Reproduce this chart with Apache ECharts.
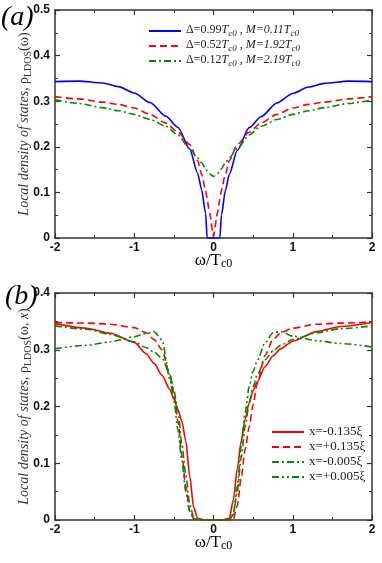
<!DOCTYPE html>
<html>
<head>
<meta charset="utf-8">
<script src="https://cdn.jsdelivr.net/npm/echarts@6/dist/echarts.min.js"></script>
<style>
  html, body { margin: 0; padding: 0; background: #fff; }
  #chart { width: 382px; height: 563px; }
</style>
</head>
<body>
<div id="chart"></div>
<script>
// panel (a): omega grid and rho_LDOS for three (Delta, M) sets
const omegaA = [-2, -1.7, -1.4, -1.2, -1, -0.8, -0.6, -0.45, -0.3, -0.2, -0.15, -0.1, -0.08, -0.05, 0,
  0.05, 0.08, 0.1, 0.15, 0.2, 0.3, 0.45, 0.6, 0.8, 1, 1.2, 1.4, 1.7, 2];
const rhoBlue = [0.343, 0.344, 0.340, 0.332, 0.318, 0.297, 0.267, 0.243, 0.195, 0.142, 0.106, 0.055, 0, 0, 0,
  0, 0, 0.05, 0.104, 0.14, 0.192, 0.242, 0.266, 0.296, 0.317, 0.331, 0.339, 0.344, 0.343];
const rhoRed = [0.310, 0.305, 0.298, 0.293, 0.285, 0.271, 0.252, 0.232, 0.205, 0.17, 0.14, 0.105, 0.085, 0.055, 0.004,
  0.055, 0.085, 0.105, 0.14, 0.17, 0.205, 0.232, 0.252, 0.271, 0.285, 0.293, 0.298, 0.305, 0.310];
const rhoGreen = [0.303, 0.295, 0.286, 0.279, 0.271, 0.260, 0.245, 0.226, 0.196, 0.176, 0.165, 0.152, 0.147, 0.141, 0.135,
  0.141, 0.147, 0.152, 0.165, 0.176, 0.196, 0.226, 0.245, 0.260, 0.271, 0.279, 0.286, 0.295, 0.303];
const deltaVals = ["0.99", "0.52", "0.12"];
const mVals = ["0.11", "1.92", "2.19"];

// panel (b): omega grid and rho_LDOS(omega, x) for four positions
const omegaB = [-2, -1.6, -1.3, -1, -0.85, -0.75, -0.65, -0.55, -0.5, -0.45, -0.4, -0.35, -0.3, -0.25, -0.2, -0.1, 0,
  0.1, 0.2, 0.25, 0.3, 0.35, 0.4, 0.45, 0.5, 0.55, 0.65, 0.75, 0.85, 1, 1.3, 1.6, 2];
const rhoM135 = [0.346, 0.338, 0.329, 0.313, 0.293, 0.276, 0.255, 0.23, 0.213, 0.195, 0.174, 0.14, 0.077, 0.022, 0.003, 0, 0,
  0, 0.003, 0.035, 0.09, 0.14, 0.178, 0.207, 0.228, 0.243, 0.27, 0.289, 0.302, 0.315, 0.332, 0.341, 0.348];
const rhoP135 = [0.348, 0.347, 0.345, 0.339, 0.330, 0.318, 0.300, 0.257, 0.223, 0.175, 0.115, 0.06, 0.015, 0.002, 0, 0, 0,
  0, 0, 0.002, 0.025, 0.075, 0.125, 0.164, 0.203, 0.24, 0.29, 0.318, 0.33, 0.338, 0.345, 0.347, 0.349];
const rhoM005 = [0.342, 0.336, 0.327, 0.314, 0.304, 0.296, 0.285, 0.256, 0.228, 0.195, 0.135, 0.08, 0.028, 0.005, 0, 0, 0,
  0, 0, 0.01, 0.05, 0.11, 0.165, 0.205, 0.235, 0.255, 0.282, 0.298, 0.308, 0.318, 0.33, 0.337, 0.342];
const rhoP005 = [0.302, 0.308, 0.314, 0.323, 0.329, 0.332, 0.317, 0.248, 0.211, 0.16, 0.105, 0.05, 0.015, 0.003, 0, 0, 0,
  0, 0, 0.01, 0.06, 0.13, 0.19, 0.235, 0.262, 0.28, 0.312, 0.33, 0.332, 0.324, 0.316, 0.311, 0.305];
const posNames = ["x=-0.135ξ", "x=+0.135ξ", "x=-0.005ξ", "x=+0.005ξ"];

const xTicks = [-2, 2, 1];

const pair = (xs, ys) => xs.map((x, i) => [x, ys[i]]);
const namesA = deltaVals.map((d, i) => "Δ=" + d + "Tc0 , M=" + mVals[i] + "Tc0");

let chart = echarts.init(document.getElementById("chart"), null, { renderer: "canvas" });

const serif = "Liberation Serif";
const axisColor = "#333";

function xAxisDef(grid, bottom) {
  return {
    type: "value",
    gridIndex: grid,
    position: bottom ? "bottom" : "top",
    min: xTicks[0],
    max: xTicks[1],
    interval: xTicks[2],
    axisLine: { show: true, onZero: false, lineStyle: { color: axisColor, width: 1.5 } },
    axisTick: { show: true, inside: true, length: 5, lineStyle: { color: axisColor, width: 1.2 } },
    minorTick: { show: true, splitNumber: 2, length: 3, lineStyle: { color: axisColor, width: 1 } },
    splitLine: { show: false },
    axisLabel: {
      show: bottom,
      margin: 4,
      color: "#111",
      fontFamily: "Liberation Sans",
      fontWeight: "bold",
      fontSize: 12,
    },
    name: bottom ? "{r|ω/T}{s|c0}" : "",
    nameLocation: "middle",
    nameMoveOverlap: false,
    nameGap: 14,
    nameTextStyle: {
      rich: {
        r: { fontFamily: serif, fontSize: 17, color: "#000", lineHeight: 18, verticalAlign: "top" },
        s: { fontFamily: serif, fontSize: 12, color: "#000", lineHeight: 18, verticalAlign: "bottom", padding: [6, 0, 0, 0] },
      },
    },
  };
}

function yAxisDef(grid, left, max, nameTail) {
  return {
    type: "value",
    gridIndex: grid,
    position: left ? "left" : "right",
    min: 0,
    max: max,
    interval: 0.1,
    axisLine: { show: true, onZero: false, lineStyle: { color: axisColor, width: 1.5 } },
    axisTick: { show: true, inside: true, length: 5, lineStyle: { color: axisColor, width: 1.2 } },
    minorTick: { show: true, splitNumber: 2, length: 3, lineStyle: { color: axisColor, width: 1 } },
    splitLine: { show: false },
    axisLabel: {
      show: left,
      margin: 5,
      color: "#111",
      fontFamily: "Liberation Sans",
      fontWeight: "bold",
      fontSize: 12,
    },
    name: left ? "{i|Local density of states,} {r|ρ}{s|LDOS}{r|(ω}" + nameTail + "{r|)}" : "",
    nameLocation: "middle",
    nameRotate: 90,
    nameMoveOverlap: false,
    nameGap: 22,
    nameTextStyle: {
      rich: {
        i: { fontFamily: serif, fontStyle: "italic", fontSize: 14, color: "#333", lineHeight: 16, verticalAlign: "top" },
        r: { fontFamily: serif, fontSize: 14, color: "#333", lineHeight: 16, verticalAlign: "top" },
        x: { fontFamily: serif, fontStyle: "italic", fontSize: 14, color: "#333", lineHeight: 16, verticalAlign: "top" },
        s: { fontFamily: serif, fontSize: 10, color: "#333", lineHeight: 16, verticalAlign: "bottom", padding: [3, 0, 0, 0] },
      },
    },
  };
}

function lineSerie(name, xIdx, yIdx, data, color, dash) {
  return {
    name: name,
    type: "line",
    xAxisIndex: xIdx,
    yAxisIndex: yIdx,
    data: data,
    symbol: "none",
    smooth: 0.25,
    smoothMonotone: "x",
    clip: true,
    lineStyle: { color: color, width: 1.6, type: dash },
    itemStyle: { color: color },
  };
}

const blue = "#0000ff";
const red = "#ff0000";
const green = "#008b00";
const dashed = [7, 4];
const dashDot = [7, 3, 2, 3];
const dashDotDot = [7, 3, 2, 3, 2, 3];

const legendRichA = {
  u: { fontFamily: serif, fontSize: 12, color: "#222", lineHeight: 14, verticalAlign: "top" },
  i: { fontFamily: serif, fontStyle: "italic", fontSize: 12, color: "#222", lineHeight: 14, verticalAlign: "top" },
  s: { fontFamily: serif, fontStyle: "italic", fontSize: 9, color: "#222", lineHeight: 14, verticalAlign: "bottom", padding: [4, 0, 0, 0] },
};

let option = {
  backgroundColor: "#fff",
  animation: false,
  grid: [
    { left: 55, right: 10, top: 10, height: 228 },
    { left: 55, right: 10, top: 293, height: 227 },
  ],
  xAxis: [xAxisDef(0, true), xAxisDef(0, false), xAxisDef(1, true), xAxisDef(1, false)],
  yAxis: [yAxisDef(0, true, 0.5, ""), yAxisDef(0, false, 0.5, ""), yAxisDef(1, true, 0.4, "{r|, }{x|x}"), yAxisDef(1, false, 0.4, "")],
  legend: [
    {
      data: namesA,
      orient: "vertical",
      left: 143,
      top: 19,
      itemWidth: 32,
      itemHeight: 10,
      itemGap: 1,
      itemStyle: { opacity: 0 },
      formatter: function (name) {
        let i = namesA.indexOf(name);
        return "{u|Δ=" + deltaVals[i] + "}{i|T}{s|c0}{u| , }{i|M=" + mVals[i] + "T}{s|c0}";
      },
      textStyle: { rich: legendRichA },
    },
    {
      data: posNames,
      orient: "vertical",
      left: 266,
      top: 420,
      itemWidth: 32,
      itemHeight: 10,
      itemGap: 1,
      itemStyle: { opacity: 0 },
      textStyle: { fontFamily: serif, fontSize: 13, color: "#222", lineHeight: 14 },
    },
  ],
  graphic: [
    { type: "text", left: 1, top: 4, style: { text: "(a)", font: "italic 28px 'Liberation Serif'", fill: "#000" } },
    { type: "text", left: 5, top: 283, style: { text: "(b)", font: "italic 28px 'Liberation Serif'", fill: "#000" } },
  ],
  series: [
    lineSerie(namesA[0], 0, 0, pair(omegaA, rhoBlue), blue, "solid"),
    lineSerie(namesA[1], 0, 0, pair(omegaA, rhoRed), red, dashed),
    lineSerie(namesA[2], 0, 0, pair(omegaA, rhoGreen), green, dashDot),
    lineSerie(posNames[0], 2, 2, pair(omegaB, rhoM135), red, "solid"),
    lineSerie(posNames[1], 2, 2, pair(omegaB, rhoP135), red, dashed),
    lineSerie(posNames[2], 2, 2, pair(omegaB, rhoM005), green, dashDot),
    lineSerie(posNames[3], 2, 2, pair(omegaB, rhoP005), green, dashDotDot),
  ],
};

chart.setOption(option);
</script>
</body>
</html>
